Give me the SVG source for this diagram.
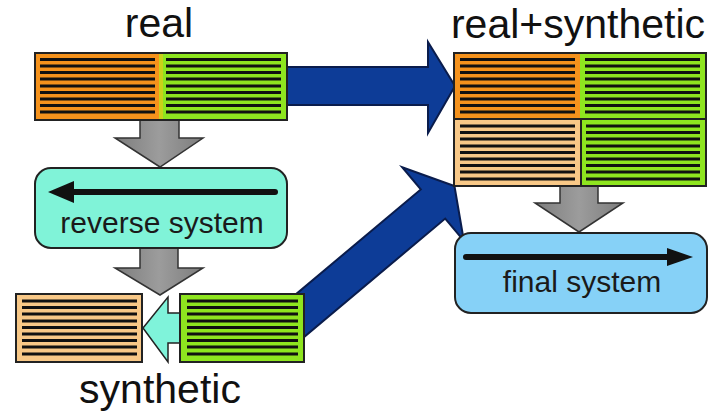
<svg xmlns="http://www.w3.org/2000/svg" width="712" height="414" viewBox="0 0 712 414">
  <defs>
    <style>
      .lbl { font-family: "Liberation Sans", Arial, sans-serif; font-size: 41px; fill: #111; text-anchor: middle; }
      .inner { font-family: "Liberation Sans", Arial, sans-serif; font-size: 30px; fill: #1a1a1a; text-anchor: middle; }
      .edge { stroke: #222; stroke-width: 2; }
      .stripe { stroke: #111; stroke-width: 3; fill: none; }
      .grey { fill: url(#greyFill); stroke: #333; stroke-width: 1.5; stroke-linejoin: miter; }
      .blue { fill: #0d3c97; stroke: #0a1c4c; stroke-width: 2; stroke-linejoin: miter; }
      .flow { stroke: #111; stroke-width: 6; stroke-linecap: round; fill: none; }
    </style>
    <linearGradient id="greyFill" x1="0" y1="0" x2="1" y2="0">
      <stop offset="0" stop-color="#7d7d7d"/>
      <stop offset="0.5" stop-color="#9c9c9c"/>
      <stop offset="1" stop-color="#7d7d7d"/>
    </linearGradient>
  </defs>

  <!-- labels -->
  <text class="lbl" x="159" y="37">real</text>
  <text class="lbl" x="578" y="38">real+synthetic</text>
  <text class="lbl" x="160" y="403">synthetic</text>

  <!-- connectors -->
  <g id="connectors">
    <polygon class="grey" points="140,120 179,120 179,138 203,138 160,167 115,138 140,138"/>
    <polygon class="grey" points="140,248 178,248 178,268 203,268 160,295 115,268 140,268"/>
    <polygon class="grey" points="560,186 598,186 598,203 623,203 579,232 535,203 560,203"/>
    <polygon class="blue" points="282,67 428,67 428,42 455,86 428,133 428,105 282,105"/>
    <polygon class="blue" transform="translate(433,204) rotate(-40)" points="-220,-19 0,-19 0,-48 28,0 0,48 0,19 -220,19"/>
    <polygon fill="#7ff3da" stroke="#222" stroke-width="1.5" points="143,328 168,297 168,313 181,313 181,343 168,343 168,362"/>
  </g>

  <!-- real data block -->
  <g id="real">
    <rect x="35" y="53" width="126" height="67" fill="#f5921c"/>
    <rect x="161" y="53" width="126" height="67" fill="#8ee51f"/>
    <rect x="159" y="53" width="4" height="67" fill="#c9d21a"/>
    <rect x="35" y="53" width="252" height="67" fill="none" class="edge"/>
    <path class="stripe" d="M40 59.5H155M40 66H155M40 72.5H155M40 79H155M40 86H155M40 92.5H155M40 99H155M40 105.5H155M40 112H155"/>
    <path class="stripe" d="M166 59.5H281M166 66H281M166 72.5H281M166 79H281M166 86H281M166 92.5H281M166 99H281M166 105.5H281M166 112H281"/>
  </g>

  <!-- combined data block -->
  <g id="real-synthetic">
    <rect x="454" y="53" width="126" height="66" fill="#f5921c"/>
    <rect x="580" y="53" width="126" height="66" fill="#8ee51f"/>
    <rect x="454" y="119" width="127" height="67" fill="#f8c887"/>
    <rect x="581" y="119" width="125" height="67" fill="#8ee51f"/>
    <rect x="454" y="53" width="252" height="133" fill="none" class="edge"/>
    <path class="edge" d="M454 119H706M581 119V186"/>
    <path class="stripe" d="M460 59.5H575M460 66H575M460 72.5H575M460 79H575M460 86H575M460 92.5H575M460 99H575M460 105.5H575M460 112H575"/>
    <path class="stripe" d="M585 59.5H700M585 66H700M585 72.5H700M585 79H700M585 86H700M585 92.5H700M585 99H700M585 105.5H700M585 112H700"/>
    <path class="stripe" d="M460 126H575M460 132.5H575M460 139H575M460 146H575M460 152.5H575M460 159H575M460 165.5H575M460 172H575M460 179H575"/>
    <path class="stripe" d="M586 126H700M586 132.5H700M586 139H700M586 146H700M586 152.5H700M586 159H700M586 165.5H700M586 172H700M586 179H700"/>
  </g>

  <!-- reverse system -->
  <g id="reverse-system">
    <rect x="35" y="168" width="252" height="80" rx="16" fill="#80f3d8" class="edge"/>
    <path class="flow" d="M275 192H70"/>
    <polygon fill="#111" points="48,192 74,181 74,203"/>
    <text class="inner" x="162" y="233">reverse system</text>
  </g>

  <!-- synthetic data blocks -->
  <g id="synthetic-source">
    <rect x="16" y="294" width="126" height="68" fill="#f8c887" class="edge"/>
    <path class="stripe" d="M22 301H137M22 307.5H137M22 314H137M22 321H137M22 327.5H137M22 334H137M22 340.5H137M22 347H137M22 354H137"/>
  </g>
  <g id="synthetic-target">
    <rect x="180" y="294" width="124" height="68" fill="#8ee51f" class="edge"/>
    <path class="stripe" d="M187 301H298M187 307.5H298M187 314H298M187 321H298M187 327.5H298M187 334H298M187 340.5H298M187 347H298M187 354H298"/>
  </g>

  <!-- final system -->
  <g id="final-system">
    <rect x="455" y="233" width="252" height="80" rx="16" fill="#86d1f7" class="edge"/>
    <path class="flow" d="M466 257H670"/>
    <polygon fill="#111" points="693,257 667,248 667,266"/>
    <text class="inner" x="582" y="292">final system</text>
  </g>
</svg>
